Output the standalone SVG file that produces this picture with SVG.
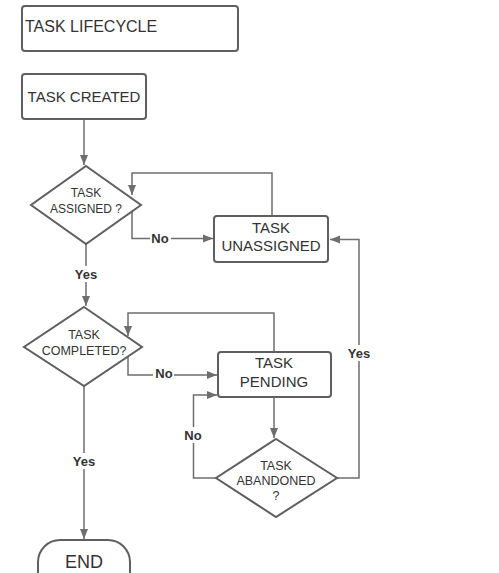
<svg xmlns="http://www.w3.org/2000/svg" width="499" height="573" viewBox="0 0 499 573">
<style>
.shape{fill:#fff;stroke:#5f5f5f;stroke-width:2}
.conn{fill:none;stroke:#6e6e6e;stroke-width:1.5}
.t{font-family:"Liberation Sans",Arial,sans-serif;fill:#333;text-anchor:middle}
.lbl{font-family:"Liberation Sans",Arial,sans-serif;fill:#333;font-weight:bold;font-size:13px;text-anchor:middle}
</style>
<defs>
<marker id="ah" viewBox="0 0 10 10" refX="10" refY="5" markerWidth="10" markerHeight="10" markerUnits="userSpaceOnUse" orient="auto">
<path d="M0,1 L10,5 L0,9 z" fill="#6e6e6e"/>
</marker>
</defs>
<rect width="499" height="573" fill="#fff"/>
<g id="connectors">
<path class="conn" d="M84,119 V165" marker-end="url(#ah)"/>
<path class="conn" d="M272,216 V173 H132 V195" marker-end="url(#ah)"/>
<path class="conn" d="M132,212 V238.5 H213" marker-end="url(#ah)"/>
<path class="conn" d="M86,244 V306" marker-end="url(#ah)"/>
<path class="conn" d="M274,352 V313 H128 V336" marker-end="url(#ah)"/>
<path class="conn" d="M128,357 V375 H217" marker-end="url(#ah)"/>
<path class="conn" d="M274,397 V438" marker-end="url(#ah)"/>
<path class="conn" d="M216,478 H193.5 V395 H217" marker-end="url(#ah)"/>
<path class="conn" d="M337,478 H359 V239.5 H330" marker-end="url(#ah)"/>
<path class="conn" d="M84,386 V539" marker-end="url(#ah)"/>
<rect x="150" y="230" width="21" height="16" fill="#fff"/>
<text class="lbl" x="160" y="243">No</text>
<rect x="72" y="266" width="28" height="16" fill="#fff"/>
<text class="lbl" x="86" y="279">Yes</text>
<rect x="153" y="366" width="21" height="16" fill="#fff"/>
<text class="lbl" x="164" y="378">No</text>
<rect x="183" y="427" width="21" height="16" fill="#fff"/>
<text class="lbl" x="193" y="440">No</text>
<rect x="345" y="345" width="28" height="16" fill="#fff"/>
<text class="lbl" x="359" y="358">Yes</text>
<rect x="70" y="453" width="28" height="16" fill="#fff"/>
<text class="lbl" x="84" y="466">Yes</text>
</g>
<g id="title">
<rect class="shape" x="22" y="6" width="216" height="45" rx="3"/>
<text class="t" x="25" y="32" font-size="16" text-anchor="start" style="text-anchor:start">TASK LIFECYCLE</text>
</g>
<g id="task-created">
<rect class="shape" x="22" y="74" width="124" height="45" rx="3"/>
<text class="t" x="84" y="102" font-size="15">TASK CREATED</text>
</g>
<g id="task-assigned">
<polygon class="shape" points="86,166 141,205 86,244 31,205"/>
<text class="t" x="86" y="197" font-size="12">TASK</text>
<text class="t" x="86" y="213" font-size="12">ASSIGNED ?</text>
</g>
<g id="task-unassigned">
<rect class="shape" x="214" y="216" width="114" height="46" rx="3"/>
<text class="t" x="271" y="233" font-size="15">TASK</text>
<text class="t" x="271" y="251" font-size="15">UNASSIGNED</text>
</g>
<g id="task-completed">
<polygon class="shape" points="84,307 142,347 84,386 24,347"/>
<text class="t" x="84" y="339" font-size="12.5">TASK</text>
<text class="t" x="84" y="355" font-size="12.5">COMPLETED?</text>
</g>
<g id="task-pending">
<rect class="shape" x="218" y="352" width="113" height="45" rx="3"/>
<text class="t" x="274" y="368" font-size="15">TASK</text>
<text class="t" x="274" y="387" font-size="15">PENDING</text>
</g>
<g id="task-abandoned">
<polygon class="shape" points="276,439 337,478 276,517 216,478"/>
<text class="t" x="276" y="470" font-size="12.5">TASK</text>
<text class="t" x="276" y="485" font-size="12.5">ABANDONED</text>
<text class="t" x="276" y="500" font-size="12.5">?</text>
</g>
<g id="end">
<path class="shape" d="M38,580 V562 A22,22 0 0 1 60,540 H108 A22,22 0 0 1 130,562 V580"/>
<text class="t" x="84" y="568" font-size="18">END</text>
</g>
</svg>
